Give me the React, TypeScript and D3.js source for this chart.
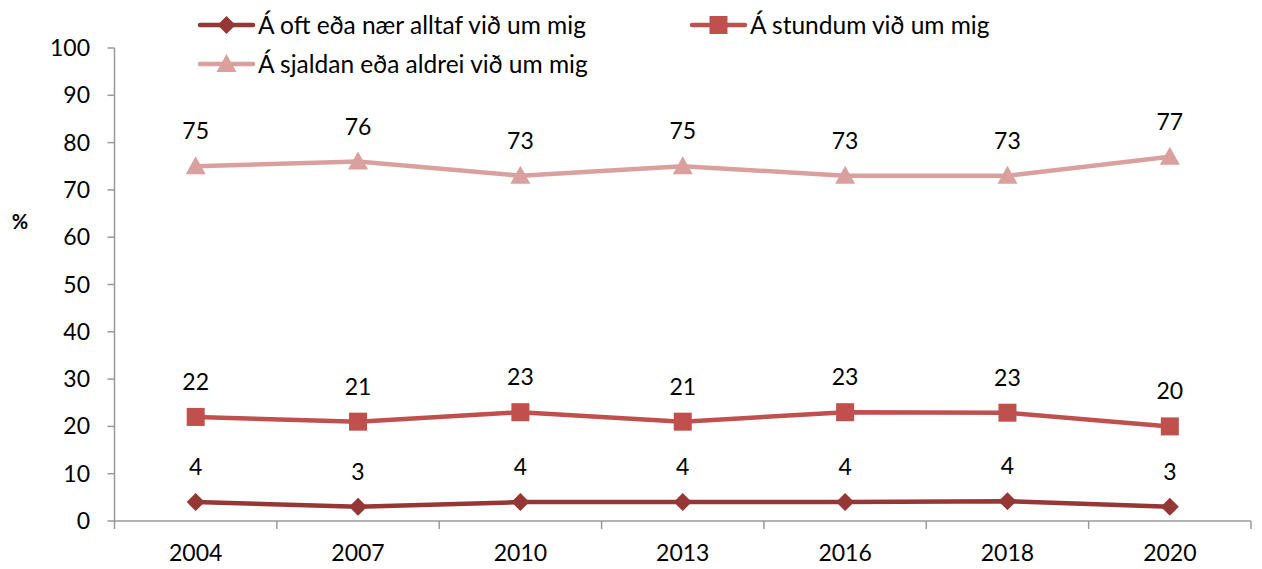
import React from "react";
import * as d3 from "d3";

const years = ["2004", "2007", "2010", "2013", "2016", "2018", "2020"];
const oftValues = [4, 3, 4, 4, 4, 4.2, 3];
const oftLabels = ["4", "3", "4", "4", "4", "4", "3"];
const stundumValues = [22, 21, 23, 21, 23, 22.9, 20];
const stundumLabels = ["22", "21", "23", "21", "23", "23", "20"];
const sjaldanValues = [75, 76, 73, 75, 73, 73, 77];
const sjaldanLabels = ["75", "76", "73", "75", "73", "73", "77"];
const yTicks = [0, 10, 20, 30, 40, 50, 60, 70, 80, 90, 100];

const seriesNames = [
  "Á oft eða nær alltaf við um mig",
  "Á stundum við um mig",
  "Á sjaldan eða aldrei við um mig",
];

const FONT = "Lato, 'Open Sans', sans-serif";

export default function App() {
  const W = 1262, H = 569;
  const left = 114.5, right = 1251, top = 48, bottom = 521;
  const x = d3.scaleBand<string>().domain(years).range([left, right]);
  const y = d3.scaleLinear().domain([0, 100]).range([bottom, top]);
  const cx = (yr: string) => (x(yr) as number) + x.bandwidth() / 2;

  const series = [
    { name: seriesNames[0], values: oftValues, labels: oftLabels, color: "#953735", marker: "diamond" },
    { name: seriesNames[1], values: stundumValues, labels: stundumLabels, color: "#C0504D", marker: "square" },
    { name: seriesNames[2], values: sjaldanValues, labels: sjaldanLabels, color: "#D9A09E", marker: "triangle" },
  ];

  const line = d3.line<number>().x((_, i) => cx(years[i])).y((v) => y(v));

  const marker = (type: string, px: number, py: number, color: string, key?: any) => {
    if (type === "diamond") {
      const s = 9;
      return <path key={key} d={`M${px},${py - s}L${px + s},${py}L${px},${py + s}L${px - s},${py}Z`} fill={color} />;
    }
    if (type === "square") {
      const s = 9;
      return <rect key={key} x={px - s} y={py - s} width={2 * s} height={2 * s} fill={color} />;
    }
    const s = 10;
    return <path key={key} d={`M${px},${py - s}L${px + s},${py + 8}L${px - s},${py + 8}Z`} fill={color} />;
  };

  const legendItems = [
    { s: series[0], lx: 200, ly: 25 },
    { s: series[1], lx: 692, ly: 25 },
    { s: series[2], lx: 200, ly: 64 },
  ];

  return (
    <svg width={W} height={H} style={{ position: "absolute", left: 0, top: 0, background: "#fff" }} fontFamily={FONT}>
      {/* y axis */}
      <line x1={left} x2={left} y1={top} y2={bottom} stroke="#999" strokeWidth={1.5} />
      {yTicks.map((t) => (
        <g key={t}>
          <line x1={left - 7} x2={left} y1={y(t)} y2={y(t)} stroke="#999" strokeWidth={1.5} />
          <text x={90} y={y(t)} dy="0.35em" textAnchor="end" fontSize={23} fill="#000">{t}</text>
        </g>
      ))}
      <text x={20} y={222} dy="0.35em" textAnchor="middle" fontSize={20} fontWeight="bold">%</text>
      {/* x axis */}
      <line x1={left} x2={right} y1={bottom} y2={bottom} stroke="#999" strokeWidth={1.5} />
      {[...years.map((yr) => x(yr) as number), right].map((bx, i) => (
        <line key={i} x1={bx} x2={bx} y1={bottom} y2={bottom + 8} stroke="#999" strokeWidth={1.5} />
      ))}
      {years.map((yr) => (
        <text key={yr} x={cx(yr)} y={553} dy="0.35em" textAnchor="middle" fontSize={23}>{yr}</text>
      ))}
      {/* series */}
      {series.map((s) => (
        <g key={s.name}>
          <path d={line(s.values) || ""} fill="none" stroke={s.color} strokeWidth={4.5} strokeLinejoin="round" />
          {s.values.map((v, i) => marker(s.marker, cx(years[i]), y(v), s.color, i))}
          {s.values.map((v, i) => (
            <text key={"l" + i} x={cx(years[i])} y={y(v) - 35} dy="0.35em" textAnchor="middle" fontSize={23}>{s.labels[i]}</text>
          ))}
        </g>
      ))}
      {/* legend */}
      {legendItems.map(({ s, lx, ly }) => (
        <g key={s.name}>
          <line x1={lx} x2={lx + 53} y1={ly} y2={ly} stroke={s.color} strokeWidth={4.5} strokeLinecap="round" />
          {marker(s.marker, lx + 26.5, ly, s.color)}
          <text x={lx + 58} y={ly} dy="0.35em" fontSize={24.5}>{s.name}</text>
        </g>
      ))}
    </svg>
  );
}
